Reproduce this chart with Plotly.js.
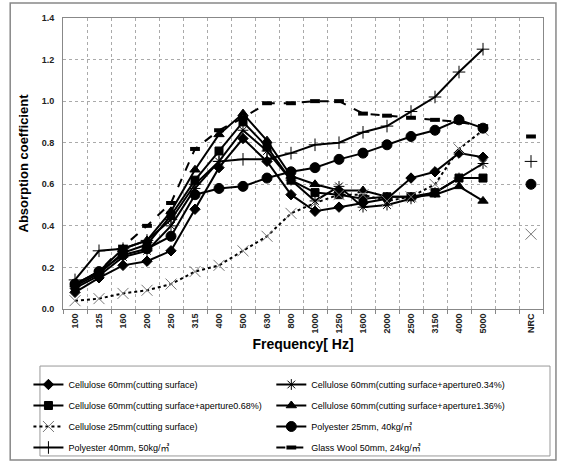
<!DOCTYPE html>
<html><head><meta charset="utf-8">
<script src="https://cdn.plot.ly/plotly-3.0.1.min.js"></script>
<style>body{margin:0;background:#fff}#chart{width:561px;height:462px}</style>
</head><body><div id="chart"></div>
<script>
const freqLabels = ['100','125','160','200','250','315','400','500','630','800','1000','1250','1600','2000','2500','3150','4000','5000',' ','NRC'];
const c60     = [0.08,0.15,0.21,0.23,0.28,0.48,0.68,0.82,0.71,0.55,0.47,0.49,0.51,0.53,0.63,0.66,0.75,0.73];
const c60a034 = [0.10,0.16,0.25,0.28,0.40,0.58,0.71,0.86,0.76,0.62,0.52,0.59,0.49,0.50,0.53,0.56,0.63,0.70];
const c60a068 = [0.11,0.17,0.27,0.31,0.45,0.62,0.76,0.90,0.78,0.62,0.56,0.55,0.53,0.54,0.54,0.56,0.63,0.63];
const c60a136 = [0.12,0.18,0.29,0.33,0.47,0.67,0.84,0.94,0.81,0.64,0.60,0.57,0.57,0.54,0.54,0.55,0.59,0.52];
const c25     = [0.04,0.05,0.075,0.09,0.12,0.18,0.21,0.28,0.35,0.46,0.51,0.55,0.55,0.52,0.54,0.60,0.77,0.86];
const p25     = [0.12,0.18,0.26,0.29,0.35,0.55,0.58,0.59,0.63,0.66,0.68,0.72,0.75,0.79,0.83,0.86,0.91,0.87];
const p40     = [0.14,0.28,0.29,0.33,0.43,0.60,0.71,0.72,0.72,0.75,0.79,0.80,0.85,0.88,0.95,1.02,1.14,1.25];
const gw      = [0.12,0.18,0.30,0.40,0.51,0.77,0.86,0.92,0.99,0.99,1.00,1.00,0.94,0.93,0.92,0.91,0.90,0.88];
const nrc = {c25:0.36, p25:0.60, p40:0.71, gw:0.83};
const names = ['Cellulose 60mm(cutting surface)','Cellulose 60mm(cutting surface+aperture0.34%)',
  'Cellulose 60mm(cutting surface+aperture0.68%)','Cellulose 60mm(cutting surface+aperture1.36%)',
  'Cellulose 25mm(cutting surface)','Polyester 25mm, 40kg/㎥','Polyester 40mm, 50kg/㎥','Glass Wool 50mm, 24kg/㎥'];

const xs = freqLabels.map((l,i)=>i);
function ys(v, n){ return v.concat([null, (n===undefined? null : n)]); }

function tr(y, name, legend, sym, size, opts){
  return Object.assign({
    type:'scatter', mode:'lines+markers', x: xs, y: y, name: name, legend: legend,
    legendgroup: name, connectgaps:false,
    line:{color:'#000', width:2},
    marker:{symbol:sym, size:size, color:'#000', line:{color:'#000', width:1}}
  }, opts||{});
}

const traces = [
  tr(ys(c60), names[0], 'legend', 'diamond', 8),
  tr(ys(c60a034), names[1], 'legend2', 'asterisk-open', 9),
  tr(ys(c60a068), names[2], 'legend', 'square', 8),
  tr(ys(c60a136), names[3], 'legend2', 'triangle-up', 9),
  tr(ys(c25, nrc.c25), names[4], 'legend', 'x-thin-open', 11, {line:{color:'#000', width:2, dash:'dot'}, marker:{symbol:'x-thin-open', size:11, color:'#777', line:{color:'#777', width:1}}}),
  tr(ys(p25, nrc.p25), names[5], 'legend2', 'circle', 10),
  tr(ys(p40, nrc.p40), names[6], 'legend', 'cross-thin-open', 9, {marker:{symbol:'cross-thin-open', size:9, color:'#000', line:{color:'#000', width:1}}}),
  tr(ys(gw, nrc.gw), names[7], 'legend2', 'line-ew-open', 7, {line:{color:'#000', width:2, dash:'dash'}, marker:{symbol:'line-ew-open', size:7, color:'#000', line:{color:'#000', width:4}}})
];

const tickFont = {family:'Liberation Sans, sans-serif', size:9, color:'#222', weight:'bold'};
const legFont = {family:'Liberation Sans, Noto Sans CJK KR, sans-serif', size:9, color:'#000'};

const layout = {
  width:561, height:462,
  margin:{l:63, r:18, t:18, b:153, autoexpand:false},
  paper_bgcolor:'#fff', plot_bgcolor:'#fff',
  showlegend:true,
  xaxis:{
    range:[-0.5, 19.5], tickmode:'array', tickvals: xs, ticktext: freqLabels,
    tickangle:-90, tickfont: tickFont, ticks:'', showgrid:false, zeroline:false,
    showline:true, linecolor:'#888', linewidth:1, mirror:true, automargin:false,
    minor:{tick0:0.5, dtick:1, showgrid:true, gridcolor:'#aaa', griddash:'dot', gridwidth:1, ticks:'outside', ticklen:4, tickcolor:'#888'},
    title:{text:'Frequency[ Hz]', font:{family:'Liberation Sans, sans-serif', size:14, color:'#000', weight:'bold'}, standoff:6}
  },
  yaxis:{
    range:[0,1.4], dtick:0.2, tickformat:'.1f', tickfont: tickFont, automargin:false,
    showgrid:true, gridcolor:'#aaa', griddash:'dot', gridwidth:1, zeroline:false,
    showline:true, linecolor:'#888', linewidth:1, mirror:true, ticks:'', ticklabelstandoff:6,
    title:{text:'Absorption coefficient', font:{family:'Liberation Sans, sans-serif', size:13, color:'#000', weight:'bold'}, standoff:10}
  },
  legend:{x:-0.072, xanchor:'left', y:-0.2096, yanchor:'top', orientation:'v', traceorder:'grouped', tracegroupgap:2, font:legFont, bgcolor:'rgba(0,0,0,0)', borderwidth:0, itemwidth:30},
  legend2:{x:0.434, xanchor:'left', y:-0.2096, yanchor:'top', orientation:'v', traceorder:'grouped', tracegroupgap:2, font:legFont, bgcolor:'rgba(0,0,0,0)', borderwidth:0, itemwidth:30},
  shapes:[
    {type:'rect', xref:'paper', yref:'paper', x0:-0.110, x1:1.027, y0:-0.519, y1:1.0515, line:{color:'#888', width:1.5}, layer:'below'},
    {type:'rect', xref:'paper', yref:'paper', x0:-0.048, x1:1.0146, y0:-0.505, y1:-0.196, line:{color:'#999', width:1}, layer:'below'}
  ]
};

Plotly.newPlot('chart', traces, layout, {displayModeBar:false, staticPlot:true});
</script></body></html>
